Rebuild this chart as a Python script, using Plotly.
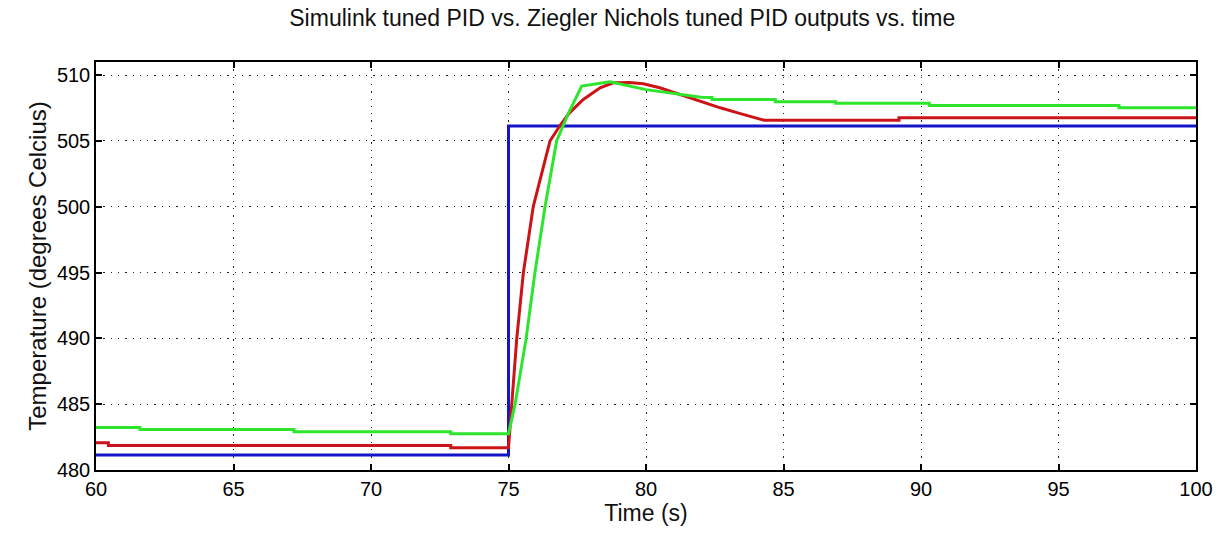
import plotly.graph_objects as go

# Setpoint (blue)
t_setpoint = [60, 75, 75, 100]
y_setpoint = [481.14, 481.14, 506.14, 506.14]

# Simulink tuned PID output (red)
t_simulink = [60, 60.45, 60.45, 72.9, 72.9, 75.0, 75.12, 75.30, 75.54, 75.90,
              76.51, 76.85, 77.2, 77.72, 78.33, 78.81, 79.4, 79.9, 80.5, 81.24,
              81.96, 82.7, 83.4, 84.0, 84.3, 89.2, 89.2, 100]
y_simulink = [482.07, 482.07, 481.87, 481.87, 481.69, 481.69, 485.05, 489.98, 494.98, 500.02,
              505.0, 506.1, 507.1, 508.15, 509.04, 509.42, 509.45, 509.34, 509.04, 508.53,
              508.08, 507.52, 507.1, 506.77, 506.57, 506.57, 506.77, 506.77]

# Ziegler Nichols tuned PID output (green)
t_zn = [60, 61.6, 61.6, 67.2, 67.2, 72.9, 72.9, 75.0, 75.24, 75.64,
        75.96, 76.33, 76.75, 77.2, 77.66, 78.69, 80.0, 81.0, 82.0, 82.4,
        82.4, 84.7, 84.7, 86.9, 86.9, 90.3, 90.3, 97.2, 97.2, 100]
y_zn = [483.23, 483.23, 483.08, 483.08, 482.9, 482.9, 482.75, 482.75, 485.0, 489.98,
        494.98, 500.02, 505.0, 507.2, 509.17, 509.5, 508.9, 508.6, 508.33, 508.3,
        508.16, 508.16, 507.98, 507.98, 507.86, 507.86, 507.7, 507.7, 507.52, 507.52]

x_ticks = [60, 65, 70, 75, 80, 85, 90, 95, 100]
y_ticks = [480, 485, 490, 495, 500, 505, 510]

FONT = "Liberation Sans, Arial, sans-serif"

fig = go.Figure()
fig.add_trace(go.Scatter(x=t_setpoint, y=y_setpoint, mode="lines",
                         line=dict(color="#1414c8", width=3)))
fig.add_trace(go.Scatter(x=t_simulink, y=y_simulink, mode="lines",
                         line=dict(color="#cc1418", width=3)))
fig.add_trace(go.Scatter(x=t_zn, y=y_zn, mode="lines",
                         line=dict(color="#2ee52e", width=3)))

axis_common = dict(
    showline=True, linecolor="black", linewidth=1.5, mirror="ticks",
    ticks="inside", ticklen=6, tickcolor="black", tickwidth=1.5,
    showgrid=True, gridcolor="#222222", gridwidth=1.3, griddash="1.3px,6px",
    zeroline=False, tickfont=dict(family=FONT, size=20, color="black"),
)

fig.update_xaxes(range=[60, 100], tickvals=x_ticks, **axis_common,
                 title=dict(text="Time (s)", font=dict(family=FONT, size=23, color="#111111"),
                            standoff=6))
fig.update_yaxes(range=[480, 511], tickvals=y_ticks, **axis_common,
                 title=dict(text="Temperature (degrees Celcius)",
                            font=dict(family=FONT, size=24, color="#111111"), standoff=3))

fig.update_layout(
    width=1225, height=539,
    margin=dict(l=96, r=29, t=62, b=69),
    paper_bgcolor="white", plot_bgcolor="white",
    showlegend=False,
    title=dict(text="Simulink tuned PID vs. Ziegler Nichols tuned PID outputs vs. time",
               font=dict(family=FONT, size=23, color="#111111"),
               x=0.508, xanchor="center", y=0.982, yanchor="top"),
)

fig.write_html("out.html")
